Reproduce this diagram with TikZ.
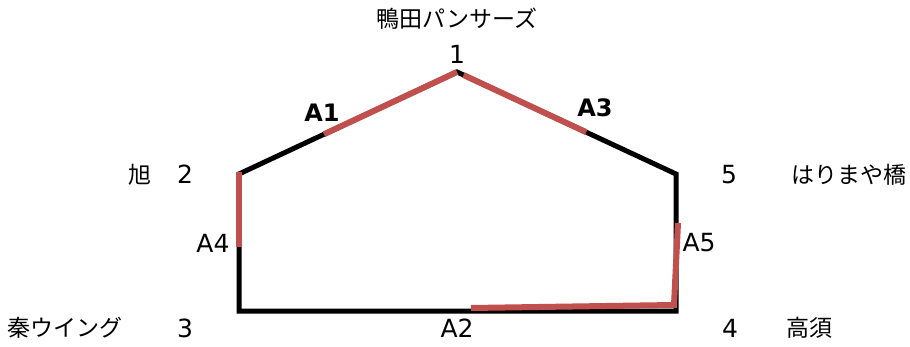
\documentclass[tikz,border=0pt]{standalone}
\usepackage{fontspec}
\setmainfont{Noto Sans CJK JP}
\newfontfamily\numfont{DejaVu Sans}
\usepackage{tikz}
\usetikzlibrary{calc}
\usepackage{xcolor}
\definecolor{routered}{RGB}{192,80,77}

\begin{document}
\begin{tikzpicture}[x=1pt,y=-1pt,
  lbl/.style={inner sep=0pt,font=\fontsize{23}{26}\selectfont},
  numlbl/.style={inner sep=0pt,font=\numfont\fontsize{25}{28}\selectfont},
  seclbl/.style={inner sep=0pt,font=\numfont\fontsize{24}{28}\selectfont\bfseries},
  road/.style={line width=5pt},
  hit/.style={routered,line width=6pt}]
  \useasboundingbox (0,0) rectangle (910,347);
  \coordinate (p1) at (457,72);
  \coordinate (p2) at (239,174);
  \coordinate (p3) at (239,311);
  \coordinate (p4) at (676,311);
  \coordinate (p5) at (676,174);
  \draw[road] (p1)--(p2)--(p3)--(p4)--(p5)--cycle;
  \coordinate (a1s) at ($(p2)!.39!(p1)$);
  \coordinate (a3s) at ($(p1)!.03!(p5)$);
  \coordinate (a3e) at ($(p1)!.59!(p5)$);
  \coordinate (a4e) at ($(p2)!.53!(p3)$);
  \coordinate (a2s) at (471,308);
  \coordinate (a2e) at (674,305);
  \coordinate (a5e) at (678,223);
  \draw[hit] (a1s)--(p1);
  \draw[hit] (a3s)--(a3e);
  \draw[hit] ($(p2)+(0,-2)$)--(a4e);
  \draw[hit] (a2s)--(a2e)--(a5e);
  \node[numlbl] (n1) at (457,54) {1};
  \node[numlbl] (n2) at (185,174) {2};
  \node[numlbl] (n3) at (185,328) {3};
  \node[numlbl] (n4) at (730,328) {4};
  \node[numlbl] (n5) at (729,175) {5};
  \node[lbl] (s1) at (457,19) {鴨田パンサーズ};
  \node[lbl] (s2) at (140,175) {旭};
  \node[lbl] (s3) at (65,328) {秦ウイング};
  \node[lbl] (s4) at (809,328) {高須};
  \node[lbl] (s5) at (849,175) {はりまや橋};
  \node[seclbl] (A1) at (322,113) {A1};
  \node[seclbl] (A3) at (595,108) {A3};
  \node[numlbl] (A4) at (213,243) {A4};
  \node[numlbl] (A5) at (699,243) {A5};
  \node[numlbl] (A2) at (457,328) {A2};
\end{tikzpicture}
\end{document}
